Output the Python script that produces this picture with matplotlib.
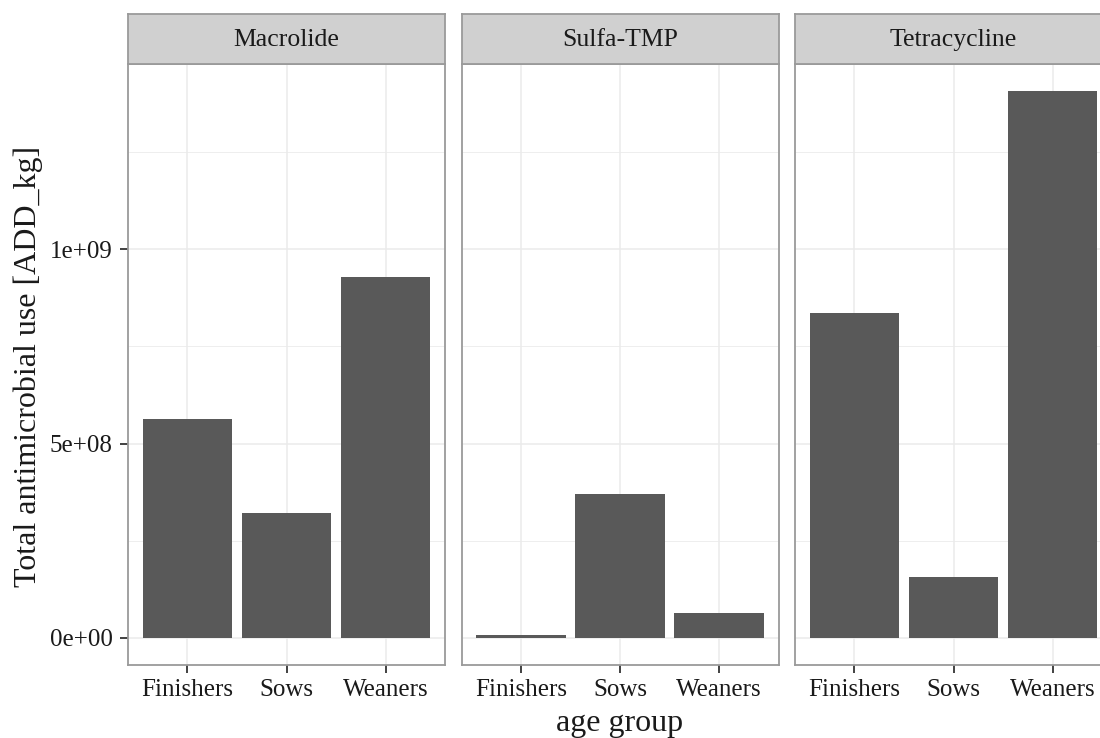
import matplotlib

matplotlib.use("Agg")

import matplotlib.pyplot as plt
import numpy as np

# data (ADD_kg)
drugs = ["Macrolide", "Sulfa-TMP", "Tetracycline"]
age_groups = ["Finishers", "Sows", "Weaners"]
macrolide = [0.562e9, 0.322e9, 0.928e9]
sulfa_tmp = [0.008e9, 0.371e9, 0.063e9]
tetracycline = [0.835e9, 0.157e9, 1.407e9]
y_ticks = [0, 5e8, 1e9]
y_tick_labels = ["0e+00", "5e+08", "1e+09"]

plt.rcParams["font.family"] = ["Liberation Serif", "DejaVu Serif"]

W, H = 1100, 738
fig = plt.figure(figsize=(W / 100, H / 100), dpi=100)

# panel geometry in pixels (ggplot facet_wrap, theme_bw)
panel_left = [128, 461.5, 795]
panel_w = 317
panel_top, panel_bottom = 64, 665
strip_top = 14

ymax = max(max(macrolide), max(sulfa_tmp), max(tetracycline))
ylim = (-0.05 * ymax, 1.05 * ymax)

border = "#9a9a9a"
grid = "#ebebeb"
text_col = "#1a1a1a"

for i, (name, vals) in enumerate(zip(drugs, [macrolide, sulfa_tmp, tetracycline])):
    x0 = panel_left[i]
    ax = fig.add_axes([x0 / W, 1 - panel_bottom / H, panel_w / W, (panel_bottom - panel_top) / H])
    x = np.arange(1, len(age_groups) + 1)
    ax.bar(x, vals, width=0.9, color="#595959", zorder=3)
    ax.set_xlim(0.4, 3.6)
    ax.set_ylim(*ylim)

    # grid lines
    for yv in [2.5e8, 7.5e8, 1.25e9]:
        ax.axhline(yv, color=grid, lw=0.6, zorder=1)
    for yv in y_ticks:
        ax.axhline(yv, color=grid, lw=1.1, zorder=1)
    for xv in x:
        ax.axvline(xv, color=grid, lw=1.1, zorder=1)

    ax.set_xticks(x)
    ax.set_xticklabels(age_groups)
    ax.set_yticks(y_ticks)
    ax.tick_params(axis="x", length=6, width=1.3, color="#333333", pad=4,
                   labelsize=18, labelcolor=text_col)
    ax.tick_params(axis="y", length=6, width=1.3, color="#333333", pad=5,
                   labelsize=18, labelcolor=text_col)
    if i == 0:
        ax.set_yticklabels(y_tick_labels)
    else:
        ax.tick_params(axis="y", left=False, labelleft=False)
    for sp in ax.spines.values():
        sp.set_color(border)
        sp.set_linewidth(1.3)

    # strip
    sax = fig.add_axes([x0 / W, 1 - panel_top / H, panel_w / W, (panel_top - strip_top) / H])
    sax.set_facecolor("#d0d0d0")
    sax.set_xticks([])
    sax.set_yticks([])
    for sp in sax.spines.values():
        sp.set_color(border)
        sp.set_linewidth(1.3)
    sax.text(0.5, 0.48, name, ha="center", va="center", fontsize=18.5,
             color=text_col, transform=sax.transAxes)

fig.text(620 / W, 1 - 723 / H, "age group", ha="center", va="center",
         fontsize=23, color=text_col)
fig.text(28 / W, 1 - 366 / H, "Total antimicrobial use [ADD_kg]", ha="center",
         va="center", rotation=90, fontsize=23, color=text_col)

fig.savefig("out.png", dpi=100, facecolor="white")
